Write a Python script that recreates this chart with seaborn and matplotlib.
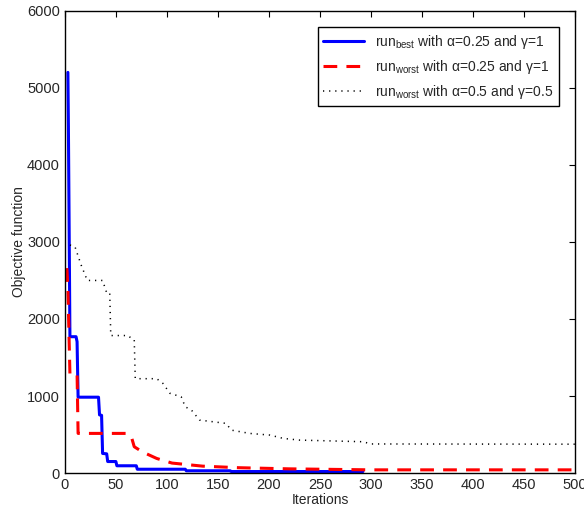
import matplotlib
matplotlib.use("Agg")
import matplotlib.pyplot as plt
import pandas as pd
import seaborn as sns

# run_best, alpha=0.25, gamma=1
best_iter = [3, 3.5, 4, 5, 11, 12, 13, 33, 34, 36, 37, 41, 42, 50, 51, 70, 71, 118, 119, 162, 163, 292]
best_obj = [5200, 4500, 3600, 1770, 1770, 1705, 985, 985, 755, 750, 255, 250, 150, 150, 95, 95, 50, 50, 30, 30, 20, 20]

# run_worst, alpha=0.25, gamma=1
worst_iter = [2, 3, 5, 12, 13, 60, 65, 68, 76, 90, 105, 135, 170, 220, 300, 500]
worst_obj = [2660, 2400, 1290, 1290, 515, 515, 480, 342, 275, 190, 130, 90, 70, 55, 42, 42]

# run_worst, alpha=0.5, gamma=0.5
worst2_iter = [5, 10, 16, 22, 37, 41, 44, 45, 62, 67, 68, 69, 90, 96, 103, 114, 118, 124,
               132, 158, 163, 181, 201, 214, 230, 292, 300, 500]
worst2_obj = [2960, 2935, 2700, 2500, 2500, 2340, 2340, 1785, 1785, 1727, 1727, 1225, 1225, 1165,
              1035, 990, 860, 818, 688, 645, 558, 515, 493, 450, 428, 407, 378, 375]

labels = [
    r"run$_{\mathrm{best}}$ with α=0.25 and γ=1",
    r"run$_{\mathrm{worst}}$ with α=0.25 and γ=1",
    r"run$_{\mathrm{worst}}$ with α=0.5 and γ=0.5",
]

sns.set_style("white")
plt.rcParams["font.family"] = ["Liberation Sans", "DejaVu Sans"]
plt.rcParams["mathtext.fontset"] = "custom"
plt.rcParams["mathtext.rm"] = "Liberation Sans"
plt.rcParams["mathtext.it"] = "Liberation Sans:italic"

fig = plt.figure(figsize=(5.84, 5.12), dpi=100)
ax = fig.add_axes([0.111, 0.076, 0.874, 0.903])

sns.lineplot(x=best_iter, y=best_obj, ax=ax, color="#0000ff", lw=2.2, sort=False,
             label=labels[0])
sns.lineplot(x=worst_iter, y=worst_obj, ax=ax, color="#ff0000", lw=2.2, sort=False,
             label=labels[1])
ax.lines[-1].set_dashes([4.5, 3])
sns.lineplot(x=worst2_iter, y=worst2_obj, ax=ax, color="black", lw=1.1, sort=False,
             label=labels[2])
ax.lines[-1].set_dashes([0.8, 3.2])

ax.set_xlim(0, 500)
ax.set_ylim(0, 6000)
ax.set_xticks(range(0, 501, 50))
ax.set_yticks(range(0, 6001, 1000))
ax.tick_params(direction="in", top=True, right=True, length=4, width=0.8,
               labelsize=10.5, color="black")
for s in ax.spines.values():
    s.set_color("black")
    s.set_linewidth(1.0)

ax.set_xlabel("Iterations", fontsize=10, labelpad=1)
ax.set_ylabel("Objective function", fontsize=10, labelpad=0.5)

leg = ax.legend(loc="upper right", fontsize=10, frameon=True, fancybox=False,
                edgecolor="black", framealpha=1, borderaxespad=1.2,
                handlelength=2.9, labelspacing=0.5)
leg.get_frame().set_linewidth(1.0)

plt.savefig("out.png", dpi=100)
plt.close()
